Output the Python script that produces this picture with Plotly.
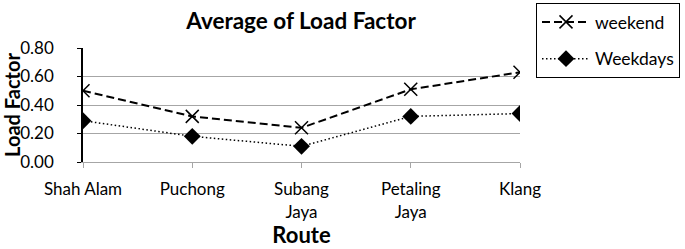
import plotly.graph_objects as go

routes = ["Shah Alam", "Puchong", "Subang<br>Jaya", "Petaling<br>Jaya", "Klang"]
weekend = [0.50, 0.32, 0.24, 0.51, 0.63]
weekdays = [0.29, 0.18, 0.11, 0.32, 0.34]
y_ticks = [0.0, 0.2, 0.4, 0.6, 0.8]
y_tick_labels = ["0.00", "0.20", "0.40", "0.60", "0.80"]

FONT = "Lato"

fig = go.Figure()
fig.add_trace(go.Scatter(
    x=routes, y=weekend, name="weekend", mode="lines+markers",
    legendgroup="a",
    line=dict(color="black", width=2, dash="8px,4px"),
    marker=dict(symbol="x-thin", size=13, color="black",
                line=dict(color="black", width=1.5)),
))
fig.add_trace(go.Scatter(
    x=routes, y=weekdays, name="Weekdays", mode="lines+markers",
    legendgroup="b",
    line=dict(color="black", width=1.5, dash="1.5px,2.5px"),
    marker=dict(symbol="diamond", size=13, color="black"),
))

fig.update_layout(
    width=685, height=249,
    margin=dict(l=83, r=165, t=48, b=87, autoexpand=False),
    paper_bgcolor="white", plot_bgcolor="white",
    font=dict(family=FONT, size=14, color="black"),
    title=dict(text="<b>Average of Load Factor</b>", x=301 / 685, xanchor="center",
               y=1 - 21 / 249, yanchor="middle",
               font=dict(family=FONT, size=22.5, color="black")),
    showlegend=True,
    legend=dict(xref="container", yref="container",
                x=536 / 685, y=1 - 3 / 249, xanchor="left", yanchor="top",
                bordercolor="black", borderwidth=1, bgcolor="white",
                font=dict(family=FONT, size=17.5, color="black"),
                itemwidth=48,
                tracegroupgap=11, traceorder="grouped"),
    xaxis=dict(
        type="category", range=[0, 4], automargin=False,
        showline=True, linecolor="#a6a6a6", linewidth=1,
        ticks="outside", ticklen=5, tickcolor="#a6a6a6",
        showgrid=False, zeroline=False,
        tickfont=dict(family=FONT, size=17),
        ticklabelstandoff=7,
        title=dict(text="<b>Route</b>", font=dict(family=FONT, size=22), standoff=4),
    ),
    yaxis=dict(
        range=[0, 0.8], tickvals=y_ticks, ticktext=y_tick_labels, automargin=False,
        showline=True, linecolor="black", linewidth=1.5,
        ticks="outside", ticklen=4, tickcolor="black",
        showgrid=True, gridcolor="#a6a6a6", gridwidth=1,
        zeroline=False,
        tickfont=dict(family=FONT, size=17),
        ticklabelstandoff=20,
        title=dict(text="<b>Load Factor</b>", font=dict(family=FONT, size=20), standoff=8),
    ),
)

fig.write_html("out.html", config={"displayModeBar": False},
               post_script="document.body.style.margin='0';")
